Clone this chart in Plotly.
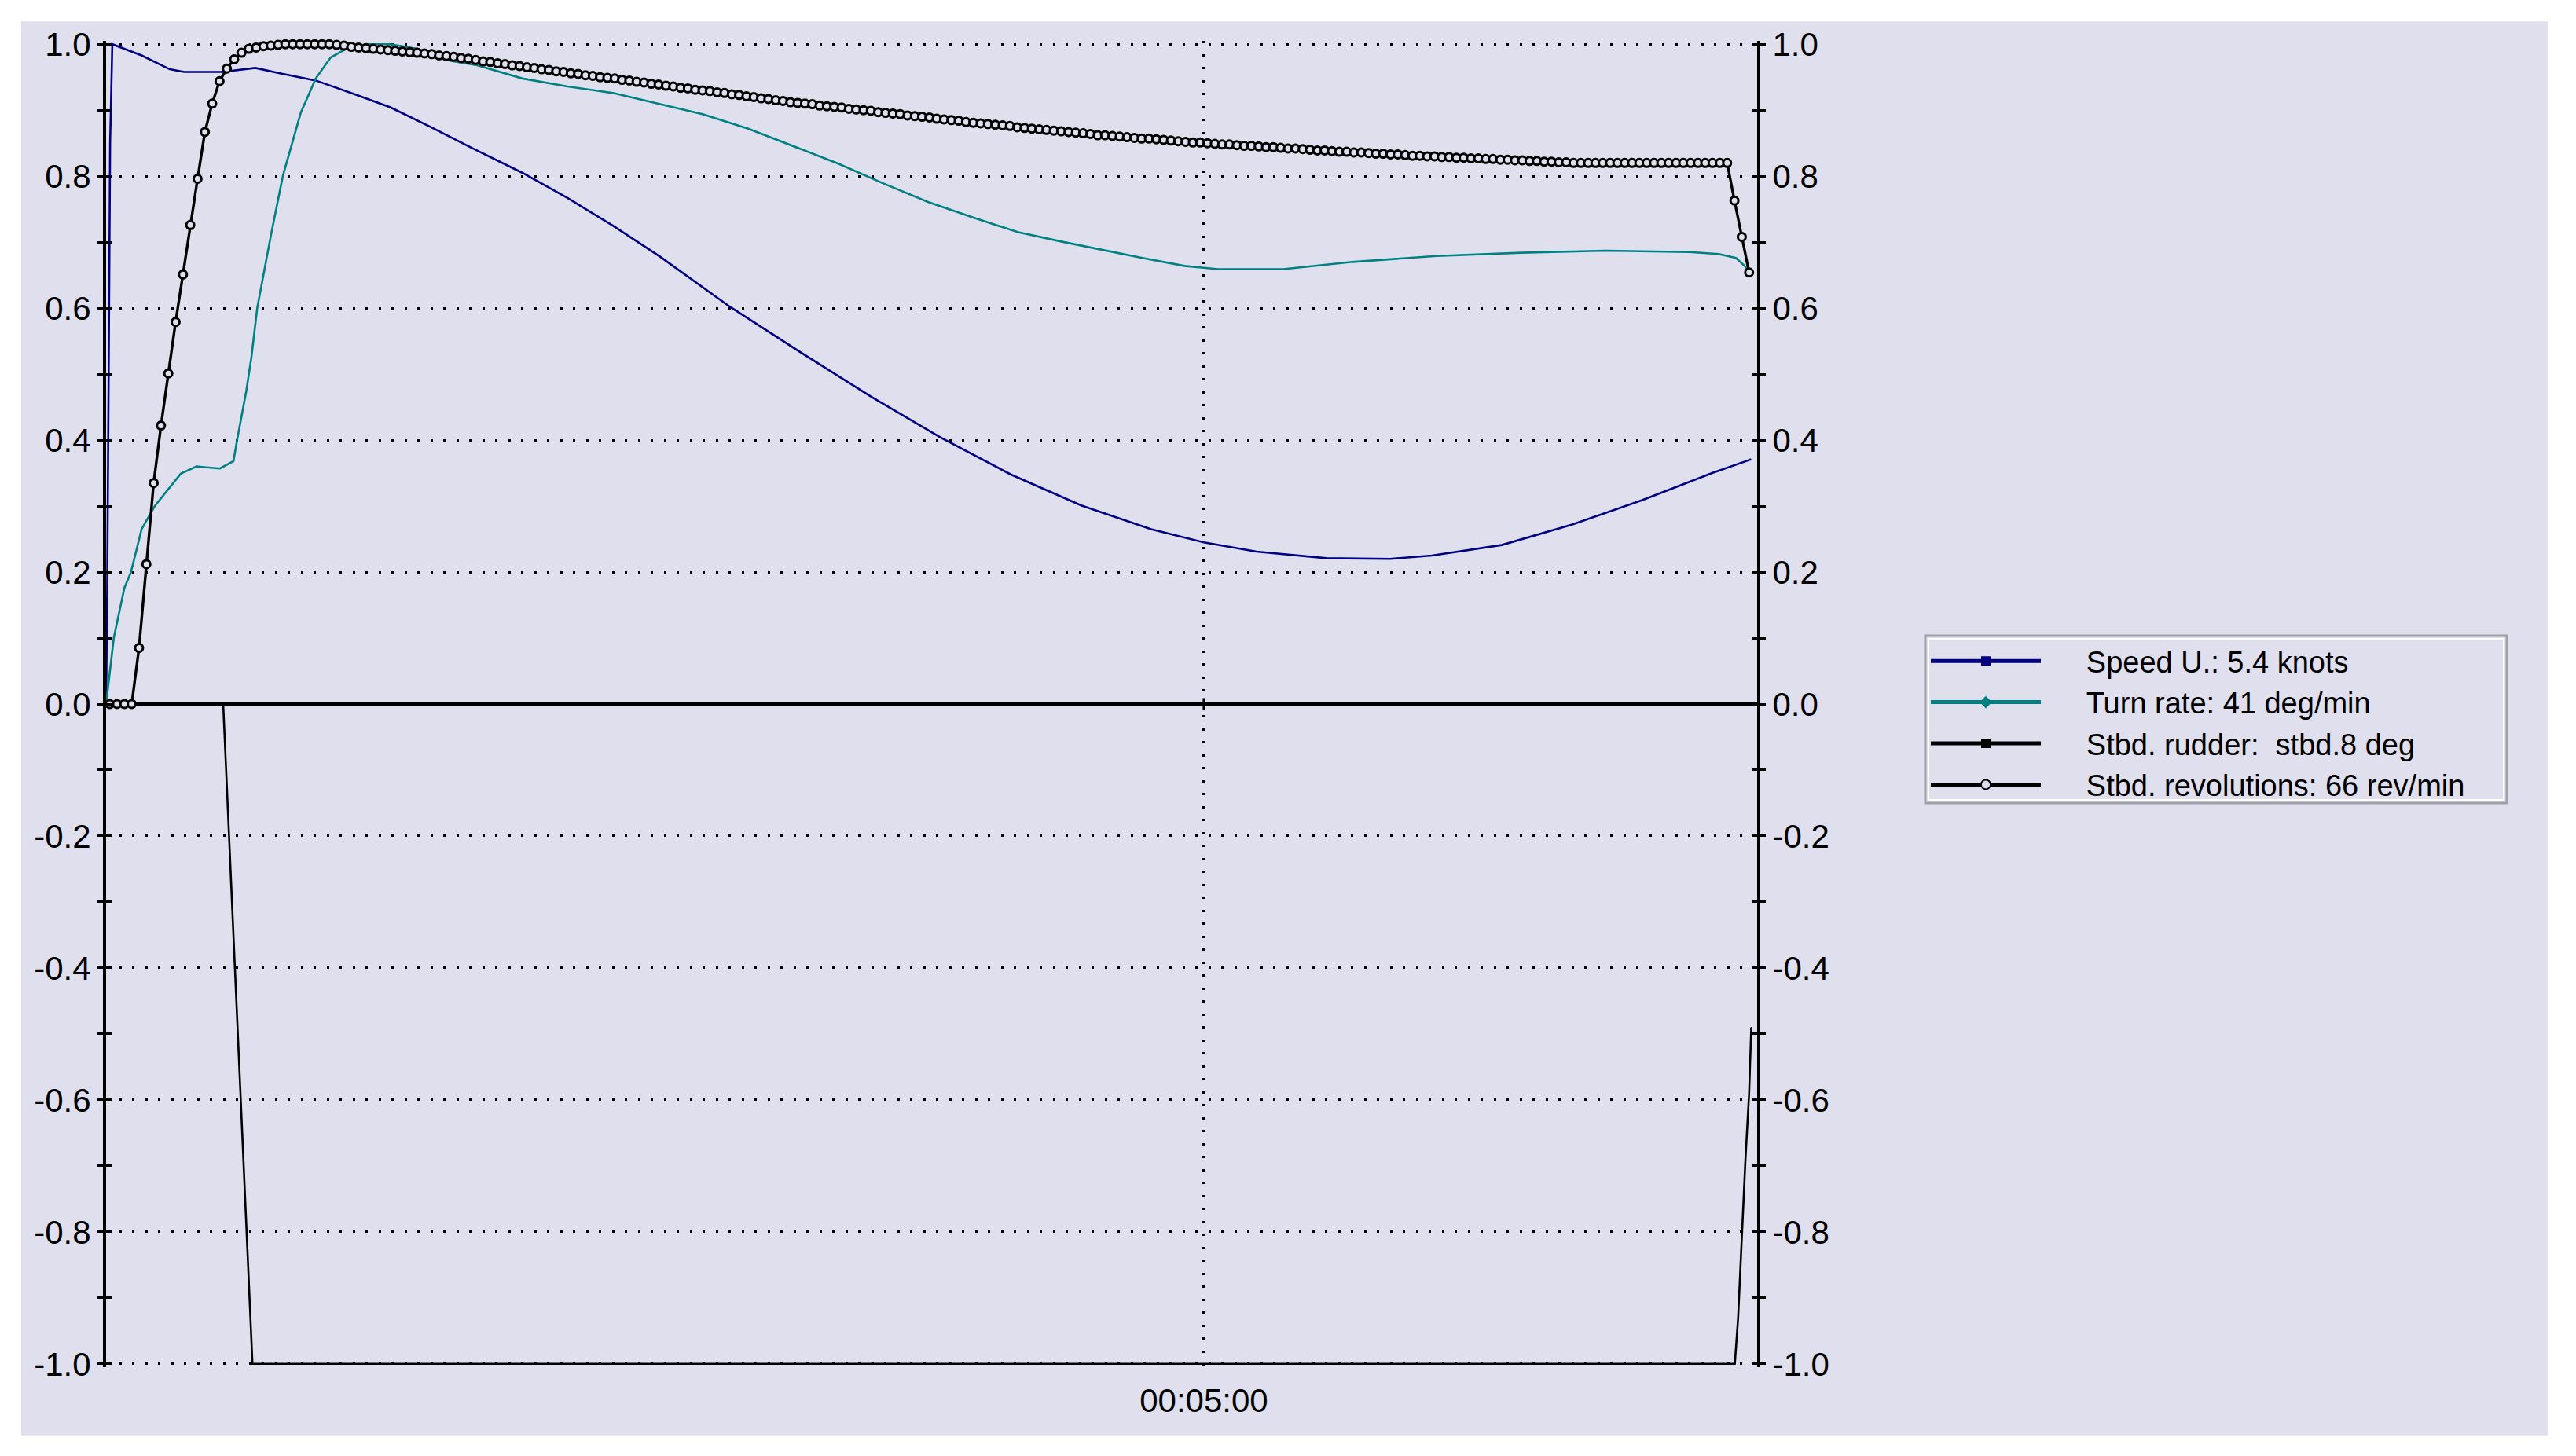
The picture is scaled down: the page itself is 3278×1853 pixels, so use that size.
import plotly.graph_objects as go

# ---- data (time in seconds, values normalised to -1..1) ----
speed_t = [0, 0.3, 0.7, 1.1, 1.7, 9.7, 17.4, 21.3, 31.8, 40.8, 47.5, 57.3, 68.0, 77.8,
           88.5, 99.9, 113.8, 126.1, 138.5, 151.4, 170.5, 189.8, 209.0, 228.0, 247.2,
           266.5, 285.6, 300.0, 314.4, 333.5, 350.9, 362.3, 381.4, 400.7, 419.8, 438.9,
           448.6, 449.5]
speed_v = [0, 0.17, 0.5, 0.85, 1.0, 0.983, 0.962, 0.958, 0.958, 0.964, 0.956, 0.945, 0.924,
           0.904, 0.875, 0.843, 0.805, 0.767, 0.725, 0.678, 0.602, 0.533, 0.466, 0.404,
           0.348, 0.301, 0.265, 0.245, 0.231, 0.221, 0.220, 0.225, 0.241, 0.272, 0.309,
           0.350, 0.369, 0.371]

turn_t = [0, 0.4, 2.1, 5.0, 6.8, 9.7, 13.3, 20.4, 24.7, 31.1, 34.8, 35.8, 38.3, 39.7,
          41.3, 45.0, 48.3, 53.2, 57.3, 61.4, 66.3, 72.0, 77.7, 85.0, 89.1, 94.0, 101.4,
          113.8, 126.1, 138.5, 150.8, 163.0, 175.5, 187.7, 200.1, 212.4, 224.6, 237.1,
          249.3, 261.8, 274.0, 283.2, 294.7, 303.9, 321.7, 340.6, 363.6, 386.8, 409.8,
          432.7, 440.7, 445.4, 447.6, 449.5]
turn_v = [0, 0.02, 0.10, 0.176, 0.20, 0.265, 0.30, 0.349, 0.36, 0.357, 0.368, 0.40, 0.474,
          0.525, 0.60, 0.709, 0.80, 0.896, 0.948, 0.98, 0.995, 1.0, 1.0, 0.993, 0.986, 0.975,
          0.968, 0.948, 0.936, 0.926, 0.910, 0.894, 0.872, 0.846, 0.819, 0.789, 0.761,
          0.737, 0.715, 0.700, 0.686, 0.676, 0.664, 0.659, 0.659, 0.670, 0.679, 0.684,
          0.687, 0.685, 0.682, 0.676, 0.665, 0.652]

rudder_t = [0, 32.0, 40.0, 445.1, 446.0, 447.0, 448.0, 449.0, 449.6]
rudder_v = [0, 0, -1.0, -1.0, -0.93, -0.80, -0.69, -0.59, -0.49]

# revolutions, one sample every 2 s starting at t = 1 s
rev_v = [
    0, 0, 0, 0, 0.085, 0.212, 0.335, 0.422, 0.501, 0.579,
    0.651, 0.726, 0.796, 0.867, 0.910, 0.944, 0.963, 0.977, 0.987, 0.993,
    0.995, 0.997, 0.998, 0.999, 1.0, 1.0, 1.0, 1.0, 1.0, 1.0,
    1.0, 0.999, 0.998, 0.996, 0.995, 0.994, 0.993, 0.992, 0.991, 0.990,
    0.989, 0.988, 0.987, 0.986, 0.985, 0.983, 0.982, 0.981, 0.979, 0.978,
    0.976, 0.974, 0.973, 0.971, 0.970, 0.968, 0.967, 0.965, 0.964, 0.962,
    0.961, 0.959, 0.958, 0.956, 0.955, 0.953, 0.952, 0.950, 0.949, 0.948,
    0.946, 0.945, 0.943, 0.942, 0.940, 0.939, 0.937, 0.936, 0.934, 0.933,
    0.931, 0.930, 0.929, 0.927, 0.926, 0.924, 0.923, 0.921, 0.920, 0.918,
    0.917, 0.915, 0.914, 0.912, 0.911, 0.910, 0.909, 0.907, 0.906, 0.905,
    0.904, 0.902, 0.901, 0.900, 0.899, 0.897, 0.896, 0.895, 0.894, 0.892,
    0.891, 0.890, 0.889, 0.887, 0.886, 0.885, 0.884, 0.882, 0.881, 0.880,
    0.879, 0.878, 0.877, 0.876, 0.874, 0.873, 0.872, 0.871, 0.870, 0.869,
    0.868, 0.867, 0.866, 0.865, 0.864, 0.862, 0.862, 0.861, 0.860, 0.859,
    0.858, 0.857, 0.857, 0.856, 0.855, 0.854, 0.853, 0.852, 0.851, 0.851,
    0.850, 0.849, 0.848, 0.848, 0.847, 0.846, 0.846, 0.845, 0.844, 0.844,
    0.843, 0.842, 0.842, 0.841, 0.840, 0.839, 0.839, 0.838, 0.837, 0.837,
    0.836, 0.836, 0.835, 0.834, 0.834, 0.833, 0.833, 0.832, 0.831, 0.831,
    0.830, 0.830, 0.829, 0.829, 0.828, 0.828, 0.827, 0.827, 0.826, 0.826,
    0.825, 0.825, 0.824, 0.824, 0.823, 0.823, 0.822, 0.822, 0.821, 0.821,
    0.820, 0.820, 0.820, 0.820, 0.820, 0.820, 0.820, 0.820, 0.820, 0.820,
    0.820, 0.820, 0.820, 0.820, 0.820, 0.820, 0.820, 0.820, 0.820, 0.820,
    0.820, 0.820, 0.763, 0.708, 0.654,
]
rev_t = [1 + 2 * i for i in range(len(rev_v))]

names = ["Speed U.: 5.4 knots", "Turn rate: 41 deg/min",
         "Stbd. rudder:  stbd.8 deg", "Stbd. revolutions: 66 rev/min"]

y_ticks = [1.0, 0.8, 0.6, 0.4, 0.2, 0.0, -0.2, -0.4, -0.6, -0.8, -1.0]
y_labels = ["1.0", "0.8", "0.6", "0.4", "0.2", "0.0", "-0.2", "-0.4", "-0.6", "-0.8", "-1.0"]
y_minor = [0.9, 0.7, 0.5, 0.3, 0.1, -0.1, -0.3, -0.5, -0.7, -0.9]
x_ticks = [300]
x_labels = ["00:05:00"]

# ---- look ----
W, H = 3278, 1853
L, R = 135, 2236          # pixel x of left / right axis
TOP, BOT = 51.8, 1740.2   # pixel y of plot area
PW, PH = R - L, BOT - TOP
X_END = 451.2
BG = "#DFDFEE"
FONT = "Liberation Sans, Arial, sans-serif"
DOTS = "3px,13.5px"
PAD = "\u00a0" * 5        # gap between legend symbol and text


def px(x):
    return (x - L) / PW


def py(y):
    return (BOT - y) / PH


fig = go.Figure()
# each series sits on its own overlaid y axis so that every axis gets drawn
fig.add_trace(go.Scatter(x=speed_t, y=speed_v, name=PAD + names[0], mode="lines+markers",
                         yaxis="y",
                         line=dict(color="#000080", width=2.6),
                         marker=dict(symbol="square", size=1, color="#000080")))
fig.add_trace(go.Scatter(x=turn_t, y=turn_v, name=PAD + names[1], mode="lines+markers",
                         yaxis="y2",
                         line=dict(color="#008080", width=2.6),
                         marker=dict(symbol="diamond", size=1, color="#008080")))
fig.add_trace(go.Scatter(x=rudder_t, y=rudder_v, name=PAD + names[2], mode="lines+markers",
                         yaxis="y3",
                         line=dict(color="black", width=2.6),
                         marker=dict(symbol="square", size=1, color="black")))
fig.add_trace(go.Scatter(x=rev_t, y=rev_v, name=PAD + names[3], mode="lines+markers",
                         yaxis="y4",
                         line=dict(color="black", width=3.4), cliponaxis=False,
                         marker=dict(symbol="circle", size=10, color=BG,
                                     line=dict(color="black", width=3))))

tickfont = dict(family=FONT, size=42, color="black")
yrange = [-1.005, 1.005]
ycommon = dict(range=yrange, tickmode="array", tickvals=y_ticks, ticktext=y_labels,
               tickwidth=3, tickcolor="black", ticklen=7, tickfont=tickfont,
               fixedrange=True)


def minor(kind):
    return dict(tickmode="array", tickvals=y_minor, ticks=kind, ticklen=7,
                tickwidth=3, tickcolor="black", showgrid=False)


fig.update_layout(
    width=W, height=H,
    margin=dict(l=L, r=W - R, t=TOP, b=H - BOT, pad=0),
    paper_bgcolor="white", plot_bgcolor=BG,
    font=dict(family=FONT, size=42, color="black"),
    showlegend=True,
    xaxis=dict(range=[0, X_END], tickmode="array", tickvals=x_ticks, ticktext=x_labels,
               ticks="", ticklabelstandoff=14, showgrid=True, gridcolor="black",
               gridwidth=3, griddash=DOTS, zeroline=False, showline=False,
               tickfont=tickfont, fixedrange=True),
    yaxis=dict(**ycommon, side="left", ticks="outside", minor=minor("outside"),
               showgrid=True, gridcolor="black", gridwidth=3, griddash=DOTS,
               zeroline=True, zerolinecolor="black", zerolinewidth=4,
               showline=True, linecolor="black", linewidth=4),
    yaxis2=dict(**ycommon, overlaying="y", anchor="x", side="right", ticks="outside",
                minor=minor("outside"), showgrid=False, zeroline=False,
                showline=True, linecolor="black", linewidth=4),
    yaxis3=dict(**ycommon, overlaying="y", anchor="x", side="left", ticks="inside",
                minor=minor("inside"), showticklabels=False, showgrid=False,
                zeroline=False, showline=False),
    yaxis4=dict(**ycommon, overlaying="y", anchor="x", side="right", ticks="inside",
                minor=minor("inside"), showticklabels=False, showgrid=False,
                zeroline=False, showline=False),
    legend=dict(x=px(2452), y=py(810), xanchor="left", yanchor="top",
                bgcolor="rgba(0,0,0,0)", borderwidth=0, itemwidth=140,
                itemsizing="constant", tracegroupgap=0,
                font=dict(family=FONT, size=38, color="black")),
    shapes=[
        # lavender panel behind everything
        dict(type="rect", xref="paper", yref="paper", layer="below",
             x0=px(27), x1=px(3242), y0=py(1827), y1=py(27),
             fillcolor=BG, line=dict(width=0)),
        # legend frame
        dict(type="rect", xref="paper", yref="paper", layer="above",
             x0=px(2450), x1=px(3190), y0=py(1022), y1=py(809),
             line=dict(color="#A0A0A8", width=3)),
        dict(type="rect", xref="paper", yref="paper", layer="above",
             x0=px(2454), x1=px(3186), y0=py(1018), y1=py(813),
             line=dict(color="white", width=2)),
        # x tick crossing the zero line
        dict(type="line", xref="x", yref="y", x0=x_ticks[0], x1=x_ticks[0],
             y0=-0.009, y1=0.009, line=dict(color="black", width=3)),
    ],
)

fig.write_html("out.html", config={"displayModeBar": False},
               post_script="document.body.style.margin='0';")
